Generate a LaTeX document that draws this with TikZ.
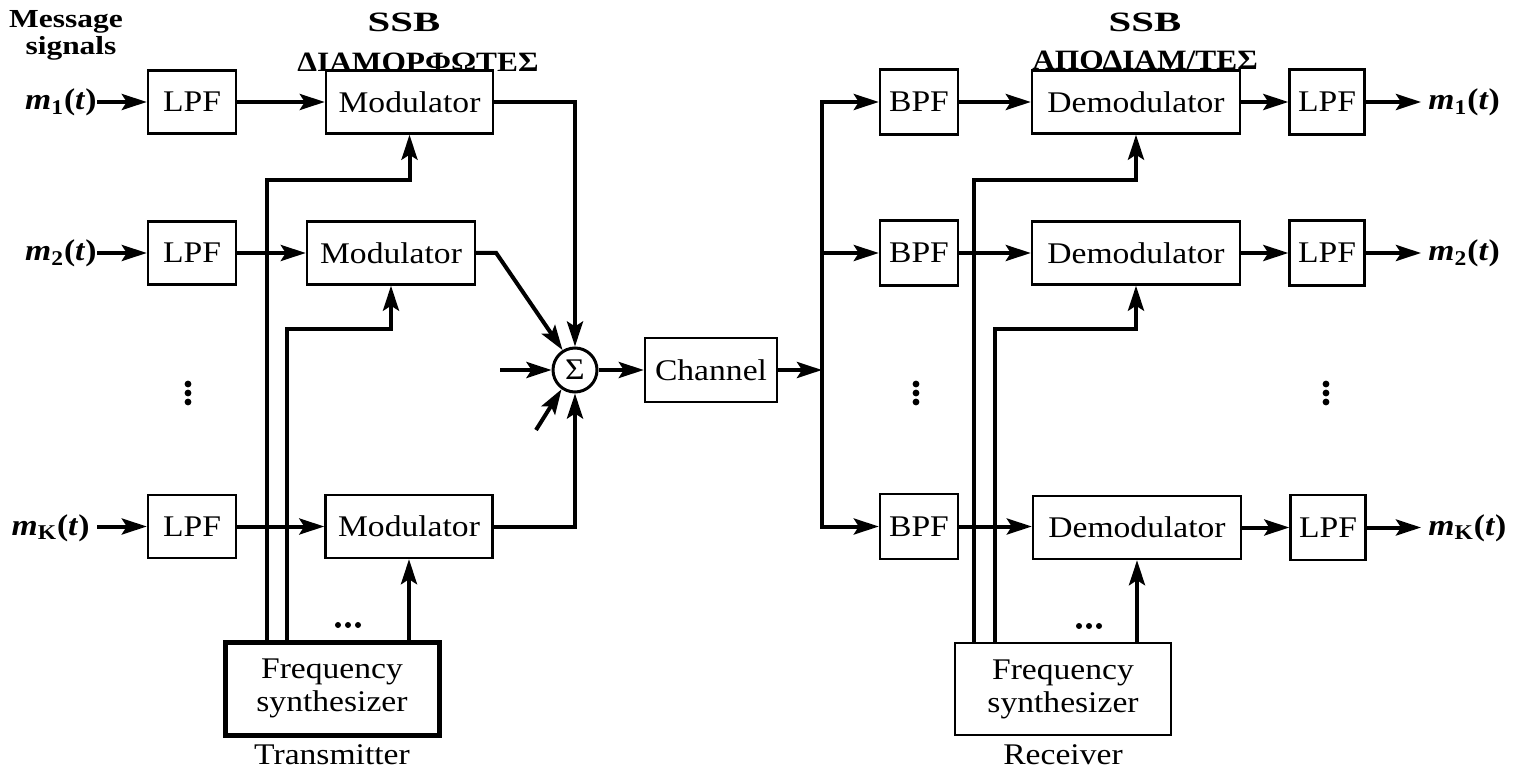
\documentclass[tikz,border=0pt]{standalone}
\usepackage{fontspec}
\setmainfont[FakeStretch=1.12]{Liberation Serif}
\usetikzlibrary{arrows.meta}
\newcommand\boxfont{\fontsize{15}{16.5}\selectfont}
\newcommand\headfont{\fontsize{14}{16}\selectfont\bfseries}
\newcommand\smallhead{\fontsize{13}{15}\selectfont\bfseries}
\newcommand\msig[1]{\textbf{\textit{m}\textsubscript{#1}(\textit{t})}}
\begin{document}
\begin{tikzpicture}[x=0.5pt,y=-0.5pt,
  blk/.style={draw,line width=1.2pt,inner sep=0pt,minimum height=31.5pt,font=\boxfont},
  synth/.style={blk,align=center,minimum width=107pt,minimum height=46.5pt},
  wire/.style={line width=2pt},
  conn/.style={wire,-{Stealth[length=12.5pt,width=8pt,inset=2.5pt]}},
  lbl/.style={inner sep=0pt,font=\boxfont},
  sig/.style={inner sep=0pt,font=\boxfont},
  head/.style={inner sep=0pt,font=\headfont},
  dot/.style={fill,circle,inner sep=0pt,minimum size=3.4pt}]
\useasboundingbox (0,0) rectangle (1513,769);

% ---------- transmitter ----------
\node[blk,minimum width=44pt] (lpf1) at (192,102) {LPF};
\node[blk,minimum width=44pt] (lpf2) at (192,253) {LPF};
\node[blk,minimum width=44pt] (lpfK) at (192,526.5) {LPF};
\node[blk,minimum width=83.5pt] (mod1) at (409.5,102) {Modulator};
\node[blk,minimum width=84pt] (mod2) at (391,253) {Modulator};
\node[blk,minimum width=83.5pt] (modK) at (409,526.5) {Modulator};
\node[draw,circle,line width=1.5pt,minimum size=22pt,inner sep=0pt,font=\boxfont] (sum) at (575,370) {Σ};
\node[blk,minimum width=66pt,minimum height=32pt] (chan) at (711,370) {Channel};
\node[synth,line width=2.5pt] (syntx) at (332,688.5) {Frequency\\synthesizer};

\node[sig,anchor=base east] (mt1) at (97,110) {\msig{1}};
\node[sig,anchor=base east] (mt2) at (97,261) {\msig{2}};
\node[sig,anchor=base east] (mtK) at (90,535) {\msig{K}};

\draw[conn] (mt1.east |- lpf1.west) -- (lpf1.west);
\draw[conn] (mt2.east |- lpf2.west) -- (lpf2.west);
\draw[conn] ([xshift=3.5pt]mtK.east |- lpfK.west) -- (lpfK.west);
\draw[conn] (lpf1) -- (mod1);
\draw[conn] (lpf2) -- (mod2);
\draw[conn] (lpfK) -- (modK);

\draw[conn] (mod1.east) -| (sum.north);
\draw[conn] (modK.east) -| (sum.south);
\draw[conn] (mod2.east) -- ++(20,0) -- (sum.122);
\coordinate (inw) at (500,370);
\coordinate (insw) at (536,430);
\draw[conn] (inw) -- (sum.west);
\draw[conn] (insw) -- (sum.235);
\draw[conn] (sum) -- (chan);

\coordinate (ta) at (267,180);
\coordinate (tb) at (287,329);
\draw[conn] (syntx.north -| ta) -- (ta) -| (mod1.south);
\draw[conn] (syntx.north -| tb) -- (tb) -| (mod2.south);
\draw[conn] (syntx.north -| modK.south) -- (modK.south);

\node[dot] (ld1) at (188,384) {};
\node[dot] (ld2) at (188,393) {};
\node[dot] (ld3) at (188,402) {};
\node[dot,minimum size=3pt] (td1) at (338,625) {};
\node[dot,minimum size=3pt] (td2) at (348,625) {};
\node[dot,minimum size=3pt] (td3) at (358,625) {};

\node[lbl,anchor=base] (txl) at (332,764) {Transmitter};

% ---------- receiver ----------
\node[blk,minimum width=39pt,minimum height=32.5pt] (bpf1) at (919,102) {BPF};
\node[blk,minimum width=39pt,minimum height=32.5pt] (bpf2) at (919,253) {BPF};
\node[blk,minimum width=39pt,minimum height=32.5pt] (bpfK) at (919,526.5) {BPF};
\node[blk,minimum width=104pt] (dem1) at (1136,102) {Demodulator};
\node[blk,minimum width=104pt] (dem2) at (1136,253) {Demodulator};
\node[blk,minimum width=104pt] (demK) at (1137,527.5) {Demodulator};
\node[blk,minimum width=37.5pt,minimum height=32.5pt] (lpr1) at (1327,102) {LPF};
\node[blk,minimum width=37.5pt,minimum height=32.5pt] (lpr2) at (1327,253) {LPF};
\node[blk,minimum width=37.5pt,minimum height=32.5pt] (lprK) at (1328,527.5) {LPF};
\node[synth,minimum width=108pt,minimum height=46pt,line width=1.3pt] (synrx) at (1063,689) {Frequency\\synthesizer};

\node[sig,anchor=base west] (o1) at (1428,110) {\msig{1}};
\node[sig,anchor=base west] (o2) at (1428,261) {\msig{2}};
\node[sig,anchor=base west] (oK) at (1428,535) {\msig{K}};

\coordinate (busm) at (822,370);
\coordinate (bus1) at (822,102);
\coordinate (busK) at (822,526.5);
\draw[conn] (chan.east) -- (busm);
\draw[conn] (busK) |- (bpf1.west);
\draw[conn] (bus1) |- (bpfK.west);
\draw[conn] (bus1 |- bpf2.west) -- (bpf2.west);

\draw[conn] (bpf1) -- (dem1);
\draw[conn] (bpf2) -- (dem2);
\draw[conn] (bpfK.east) -- (demK.west |- bpfK.east);
\draw[conn] (dem1) -- (lpr1);
\draw[conn] (dem2) -- (lpr2);
\draw[conn] (demK.east) -- (lprK.west |- demK.east);
\draw[conn] (lpr1.east) -- ([xshift=-3.5pt]o1.west |- lpr1.east);
\draw[conn] (lpr2.east) -- ([xshift=-3.5pt]o2.west |- lpr2.east);
\draw[conn] (lprK.east) -- ([xshift=-3.5pt]oK.west |- lprK.east);

\coordinate (ra) at (974,180);
\coordinate (rb) at (995,329);
\draw[conn] (synrx.north -| ra) -- (ra) -| (dem1.south);
\draw[conn] (synrx.north -| rb) -- (rb) -| (dem2.south);
\draw[conn] (synrx.north -| demK.south) -- (demK.south);

\node[dot] (md1) at (916,384) {};
\node[dot] (md2) at (916,393) {};
\node[dot] (md3) at (916,402) {};
\node[dot] (rd1) at (1326,384) {};
\node[dot] (rd2) at (1326,393) {};
\node[dot] (rd3) at (1326,402) {};
\node[dot,minimum size=3pt] (sd1) at (1079,626) {};
\node[dot,minimum size=3pt] (sd2) at (1089,626) {};
\node[dot,minimum size=3pt] (sd3) at (1099,626) {};

\node[lbl,anchor=base] (rxl) at (1063,764) {Receiver};

% ---------- headings ----------
\node[inner sep=0pt,font=\smallhead,anchor=base] (msg) at (66,28) {\scalebox{1.08}[1]{Message}};
\node[inner sep=0pt,font=\smallhead,anchor=base] (sgn) at (71,55) {\scalebox{1.08}[1]{signals}};
\node[head,anchor=base] (ssbL) at (404,32) {\scalebox{1.3}[1]{SSB}};
\node[head,anchor=base] (grL) at (418,72) {ΔΙΑΜΟΡΦΩΤΕΣ};
\node[head,anchor=base] (ssbR) at (1145,32) {\scalebox{1.3}[1]{SSB}};
\node[head,anchor=base] (grR) at (1145,70) {ΑΠΟΔΙΑΜ/ΤΕΣ};
\end{tikzpicture}
\end{document}
